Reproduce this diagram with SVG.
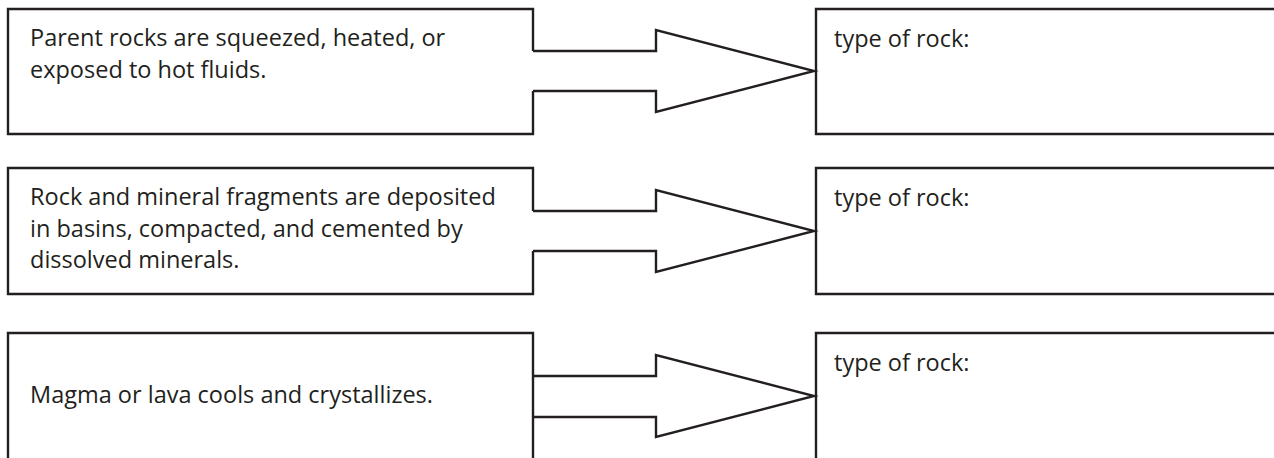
<svg xmlns="http://www.w3.org/2000/svg" width="1274" height="458" viewBox="0 0 1274 458">
<style>
.box{fill:none;stroke:#231f20;stroke-width:2.4;stroke-linejoin:miter}
.arr{fill:none;stroke:#231f20;stroke-width:2.4;stroke-linejoin:miter}
.t{font-family:"Open Sans","Liberation Sans",sans-serif;font-size:23.5px;fill:#231f20}
</style>
<rect width="1274" height="458" fill="#ffffff"/>
<g id="process-metamorphic">
<path class="box" d="M533,51 V9 H8 V134 H533 V91"/>
<text class="t" x="30" y="46">Parent rocks are squeezed, heated, or</text>
<text class="t" x="30" y="77.5">exposed to hot fluids.</text>
</g>
<g id="process-sedimentary">
<path class="box" d="M533,211 V168 H8 V294 H533 V251"/>
<text class="t" x="30" y="205">Rock and mineral fragments are deposited</text>
<text class="t" x="30" y="236.5">in basins, compacted, and cemented by</text>
<text class="t" x="30" y="268">dissolved minerals.</text>
</g>
<g id="process-igneous">
<path class="box" d="M8,462 V333 H533 V462"/>
<text class="t" x="30" y="403">Magma or lava cools and crystallizes.</text>
</g>
<g id="answer-1">
<path class="box" d="M1278,9 H816 V134 H1278"/>
<text class="t" x="834" y="47">type of rock:</text>
</g>
<g id="answer-2">
<path class="box" d="M1278,168 H816 V294 H1278"/>
<text class="t" x="834" y="206">type of rock:</text>
</g>
<g id="answer-3">
<path class="box" d="M1278,333 H816 V462"/>
<text class="t" x="834" y="371">type of rock:</text>
</g>
<g id="connectors">
<path class="arr" d="M533,51 H656 V30 L814,71 L656,112 V91 H533"/>
<path class="arr" d="M533,211 H656 V190 L814,231 L656,272 V251 H533"/>
<path class="arr" d="M533,376 H656 V355 L814,396 L656,437 V417 H533"/>
</g>
</svg>
